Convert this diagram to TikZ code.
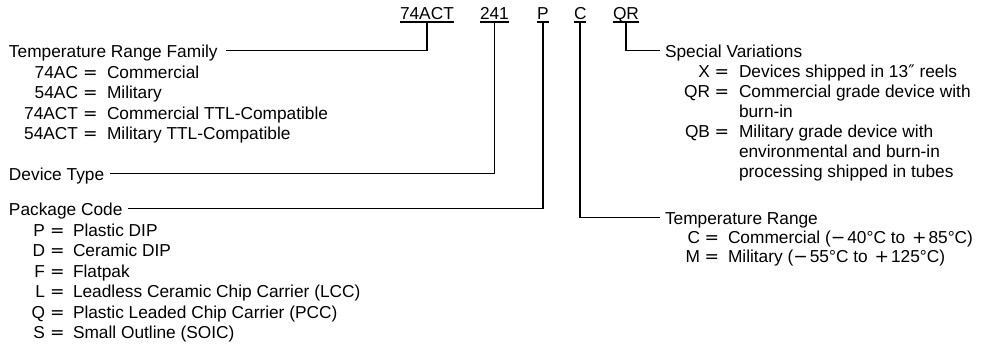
\documentclass[tikz,border=0pt]{standalone}
\usepackage{fontspec}
\setmainfont{Liberation Sans}
\newfontfamily\dejavu{DejaVu Sans}
\newcommand{\eqs}{{\dejavu =}}
\newcommand{\mns}{{\dejavu −}}
\newcommand{\pls}{{\dejavu +}}
\begin{document}
\begin{tikzpicture}[x=1pt,y=-1pt,
  txt/.style={inner sep=0pt, outer sep=0pt, anchor=base west, font=\fontsize{17.3}{20.8}\selectfont},
  code/.style={txt, anchor=base east},
  wire/.style={line width=1.6pt, line cap=butt},
  uline/.style={line width=1.5pt}]
\useasboundingbox (0,0) rectangle (986,354);

% top part number
\node[txt] (fam) at (400,19) {74ACT};
\node[txt] (dev) at (480,19) {241};
\node[txt] (pkg) at (537,19) {P};
\node[txt] (tmp) at (574,19) {C};
\node[txt] (spc) at (613,19) {QR};
\foreach \n in {fam,dev,pkg,tmp,spc}{
  \draw[uline] ([yshift=-3pt]\n.base west) -- ([yshift=-3pt]\n.base east);
  \coordinate (\n U) at ([yshift=-3pt]\n.base);
}

% left headings
\node[txt] (hfam) at (9,57) {Temperature Range Family};
\node[txt] (hdev) at (9,180) {Device Type};
\node[txt] (hpkg) at (9,215) {Package Code};
\coordinate (hfamR) at ([xshift=8pt,yshift=6.5pt]hfam.base east);
\coordinate (hdevR) at ([xshift=6pt,yshift=6.5pt]hdev.base east);
\coordinate (hpkgR) at ([xshift=6pt,yshift=6.5pt]hpkg.base east);
\draw[wire] (famU) |- (hfamR);
\draw[wire] (devU) |- (hdevR);
\draw[wire] (pkgU) |- (hpkgR);

% right headings
\node[txt] (hspc) at (665,57) {Special Variations};
\node[txt] (htmp) at (665,224) {Temperature Range};
\coordinate (hspcL) at ([xshift=-5pt,yshift=6.5pt]hspc.base west);
\coordinate (htmpL) at ([xshift=-5pt,yshift=6.5pt]htmp.base west);
\draw[wire] (spcU) |- (hspcL);
\draw[wire] (tmpU) |- (htmpL);

% family list (code end 78)
\node[code] (f1c) at (78,78) {74AC};   \node[txt] (f1e) at (83,78) {\eqs};   \node[txt] (f1t) at (107,78) {Commercial};
\node[code] (f2c) at (78,98.5) {54AC}; \node[txt] (f2e) at (83,98.5) {\eqs}; \node[txt] (f2t) at (107,98.5) {Military};
\node[code] (f3c) at (78,119) {74ACT}; \node[txt] (f3e) at (83,119) {\eqs}; \node[txt] (f3t) at (107,119) {Commercial TTL-Compatible};
\node[code] (f4c) at (78,139.5) {54ACT}; \node[txt] (f4e) at (83,139.5) {\eqs}; \node[txt] (f4t) at (107,139.5) {Military TTL-Compatible};

% package list (code end 45)
\node[code] (p1c) at (45,236) {P}; \node[txt] (p1e) at (50,236) {\eqs}; \node[txt] (p1t) at (73,236) {Plastic DIP};
\node[code] (p2c) at (45,256.5) {D}; \node[txt] (p2e) at (50,256.5) {\eqs}; \node[txt] (p2t) at (73,256.5) {Ceramic DIP};
\node[code] (p3c) at (45,277) {F}; \node[txt] (p3e) at (50,277) {\eqs}; \node[txt] (p3t) at (73,277) {Flatpak};
\node[code] (p4c) at (45,297.5) {L}; \node[txt] (p4e) at (50,297.5) {\eqs}; \node[txt] (p4t) at (73,297.5) {Leadless Ceramic Chip Carrier (LCC)};
\node[code] (p5c) at (45,318) {Q}; \node[txt] (p5e) at (50,318) {\eqs}; \node[txt] (p5t) at (73,318) {Plastic Leaded Chip Carrier (PCC)};
\node[code] (p6c) at (45,338.5) {S}; \node[txt] (p6e) at (50,338.5) {\eqs}; \node[txt] (p6t) at (73,338.5) {Small Outline (SOIC)};

% special variations (code end 710)
\node[code] (s1c) at (710,77) {X};  \node[txt] (s1e) at (714.5,77) {\eqs};  \node[txt] (s1t) at (739,77) {Devices shipped in 13{\dejavu ″} reels};
\node[code] (s2c) at (710,97) {QR}; \node[txt] (s2e) at (714.5,97) {\eqs}; \node[txt] (s2t) at (739,97) {Commercial grade device with};
\node[txt] (s2u) at (739,117) {burn-in};
\node[code] (s3c) at (710,137) {QB}; \node[txt] (s3e) at (714.5,137) {\eqs}; \node[txt] (s3t) at (739,137) {Military grade device with};
\node[txt] (s3u) at (739,157) {environmental and burn-in};
\node[txt] (s3v) at (739,177) {processing shipped in tubes};

% temperature range (code end 700)
\node[code] (t1c) at (700,243) {C}; \node[txt] (t1e) at (704.5,243) {\eqs}; \node[txt] (t1t) at (728,243) {Commercial (\mns\kern2pt40°C to \kern2pt\pls\kern2pt85°C)};
\node[code] (t2c) at (700,262.5) {M}; \node[txt] (t2e) at (704.5,262.5) {\eqs}; \node[txt] (t2t) at (728,262.5) {Military (\mns\kern2pt55°C to \kern2pt\pls\kern2pt125°C)};
\end{tikzpicture}
\end{document}
